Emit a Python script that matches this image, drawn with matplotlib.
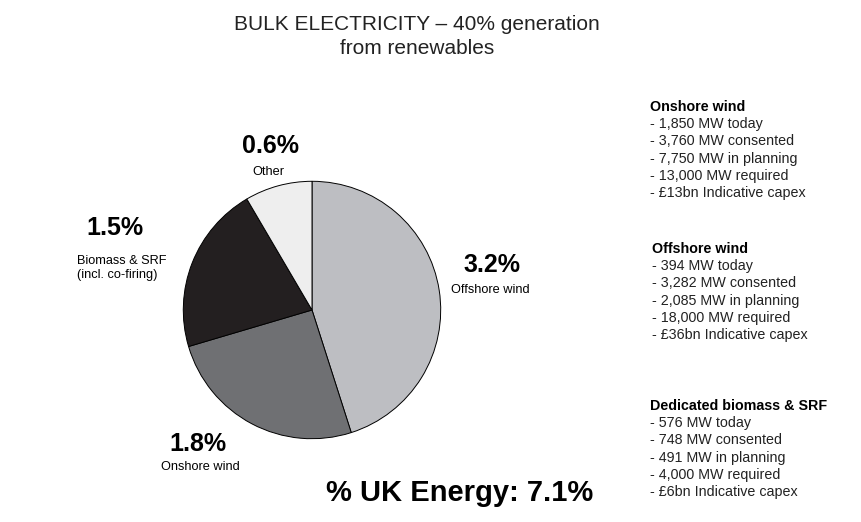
import matplotlib.pyplot as plt

plt.rcParams['font.family'] = ['Liberation Sans', 'DejaVu Sans']

W, H = 862, 522

sources = ['Offshore wind', 'Onshore wind', 'Biomass & SRF\n(incl. co-firing)', 'Other']
shares = [3.2, 1.8, 1.5, 0.6]
colors = ['#bdbec2', '#6f7073', '#231f20', '#eeeeee']
total = 7.1

# pixel positions of the labels (value, name)
value_pos = [(492, 265), (198, 444), (115, 228), (271, 146)]
name_pos = [(490, 290), (200, 467), (122, 268), (268, 172)]

notes_titles = ['Onshore wind', 'Offshore wind', 'Dedicated biomass & SRF']
notes_today = ['1,850', '394', '576']
notes_consented = ['3,760', '3,282', '748']
notes_planning = ['7,750', '2,085', '491']
notes_required = ['13,000', '18,000', '4,000']
notes_capex = ['£13bn', '£36bn', '£6bn']
notes_top = [107, 249, 406]
notes_left = [650, 652, 650]


def px(x, y):
    return x / W, 1 - y / H


fig = plt.figure(figsize=(W / 100, H / 100), dpi=100)

cx, cy, r = 312, 310, 130
ax = fig.add_axes([(cx - r) / W, (H - cy - r) / H, 2 * r / W, 2 * r / H])
ax.pie(shares, colors=colors, startangle=90, counterclock=False,
       wedgeprops=dict(edgecolor='black', linewidth=0.7))
ax.set_xlim(-1.01, 1.01)
ax.set_ylim(-1.01, 1.01)
ax.set_aspect('equal')
ax.axis('off')

fig.text(*px(417, 25), 'BULK ELECTRICITY – 40% generation', fontsize=15,
         ha='center', va='center', color='#222222')
fig.text(*px(417, 48), 'from renewables', fontsize=15,
         ha='center', va='center', color='#222222')

for s, name, vp, npos in zip(shares, sources, value_pos, name_pos):
    fig.text(*px(*vp), f'{s}%', fontsize=18, fontweight='bold',
             ha='center', va='center')
    fig.text(*px(*npos), name, fontsize=9.2, ha='center', va='center',
             multialignment='left', linespacing=1.2)

fig.text(*px(460, 493), f'% UK Energy: {total}%', fontsize=21,
         fontweight='bold', ha='center', va='center')

step = 17.2
for i, t in enumerate(notes_titles):
    x, y = notes_left[i], notes_top[i]
    fig.text(*px(x, y), t, fontsize=10.3, fontweight='bold', va='center')
    lines = [f'- {notes_today[i]} MW today',
             f'- {notes_consented[i]} MW consented',
             f'- {notes_planning[i]} MW in planning',
             f'- {notes_required[i]} MW required',
             f'- {notes_capex[i]} Indicative capex']
    for j, line in enumerate(lines):
        fig.text(*px(x, y + step * (j + 1)), line, fontsize=10.3, va='center',
                 color='#222222')

fig.savefig('out.png', dpi=100)
